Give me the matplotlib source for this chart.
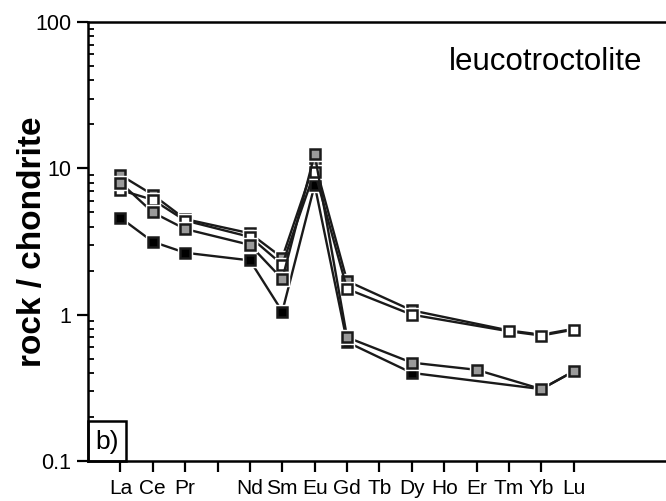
import numpy as np
import matplotlib
matplotlib.use("Agg")
import matplotlib.pyplot as plt
from matplotlib.patches import Rectangle

plt.rcParams['font.family'] = ['Liberation Sans', 'DejaVu Sans']

# REE order, Pm position left blank
ree = ['La', 'Ce', 'Pr', '', 'Nd', 'Sm', 'Eu', 'Gd', 'Tb', 'Dy', 'Ho', 'Er', 'Tm', 'Yb', 'Lu']
pos = np.arange(1, len(ree) + 1)

# chondrite-normalised values per sample
s1_x = ['La', 'Ce', 'Pr', 'Nd', 'Sm', 'Eu', 'Gd', 'Dy', 'Tm', 'Yb', 'Lu']
s1_y = [9.0, 6.6, 4.5, 3.6, 2.45, 11.0, 1.7, 1.07, 0.78, 0.73, 0.80]
s2_x = ['La', 'Ce', 'Pr', 'Nd', 'Sm', 'Eu', 'Gd', 'Dy', 'Tm', 'Yb', 'Lu']
s2_y = [7.1, 6.1, 4.4, 3.4, 2.2, 9.5, 1.5, 1.0, 0.77, 0.72, 0.79]
s3_x = ['La', 'Ce', 'Pr', 'Nd', 'Sm', 'Eu', 'Gd', 'Dy', 'Er', 'Yb', 'Lu']
s3_y = [8.0, 5.0, 3.85, 3.0, 1.75, 12.5, 0.70, 0.47, 0.42, 0.31, 0.41]
s4_x = ['La', 'Ce', 'Pr', 'Nd', 'Sm', 'Eu', 'Gd', 'Dy', 'Yb', 'Lu']
s4_y = [4.6, 3.15, 2.65, 2.35, 1.05, 7.7, 0.65, 0.40, 0.31, 0.41]

fig = plt.figure(figsize=(6.66, 5.01), dpi=100)
ax = fig.add_axes([88 / 666, 40 / 501, 578 / 666, 439 / 501])

idx = {name: p for name, p in zip(ree, pos) if name}

series = [(s4_x, s4_y, 'black'), (s1_x, s1_y, '#9a9a9a'),
          (s2_x, s2_y, 'white'), (s3_x, s3_y, '#9a9a9a')]
z = 2
for xs, ys, fc in series:
    xp = [idx[n] for n in xs]
    ax.plot(xp, ys, '-', color='#1a1a1a', lw=1.7, zorder=z)
    ax.plot(xp, ys, 's', ms=9.5, mfc='white', mec='white', ls='none', zorder=z + 1)
    ax.plot(xp, ys, 's', ms=6.5, mfc=fc, mec='#1a1a1a', mew=1.8, ls='none', zorder=z + 2)
    z += 3

ax.set_yscale('log')
ax.set_ylim(0.1, 100)
ax.set_xlim(0, 17.85)
ax.set_xticks(pos)
ax.set_xticklabels(ree)
ax.set_yticks([0.1, 1, 10, 100])
ax.set_yticklabels(['0.1', '1', '10', '100'])

ax.spines['right'].set_visible(False)
for sp in ['left', 'top', 'bottom']:
    ax.spines[sp].set_linewidth(1.8)

ax.tick_params(axis='x', direction='out', length=8, width=1.6, labelsize=15, pad=5)
ax.tick_params(axis='y', which='major', direction='out', length=8, width=1.6, labelsize=15.5, pad=4)
ax.tick_params(axis='y', which='minor', direction='in', length=4, width=1.3)
ax.tick_params(axis='y', which='minor', labelleft=False)

ax.set_ylabel('rock / chondrite', fontsize=24, fontweight='bold')
ax.yaxis.set_label_coords(-0.07, 0.5)

ax.text(0.792, 0.909, 'leucotroctolite', transform=ax.transAxes, fontsize=22.5,
        ha='center', va='center')

ax.add_patch(Rectangle((0, 0), 38 / 578, 40 / 439, transform=ax.transAxes,
                       fill=False, lw=1.8, ec='black', zorder=20, clip_on=False))
ax.text(19 / 578, 19 / 439, 'b)', transform=ax.transAxes, fontsize=19,
        ha='center', va='center', zorder=21)

fig.savefig('out.png', dpi=100)
